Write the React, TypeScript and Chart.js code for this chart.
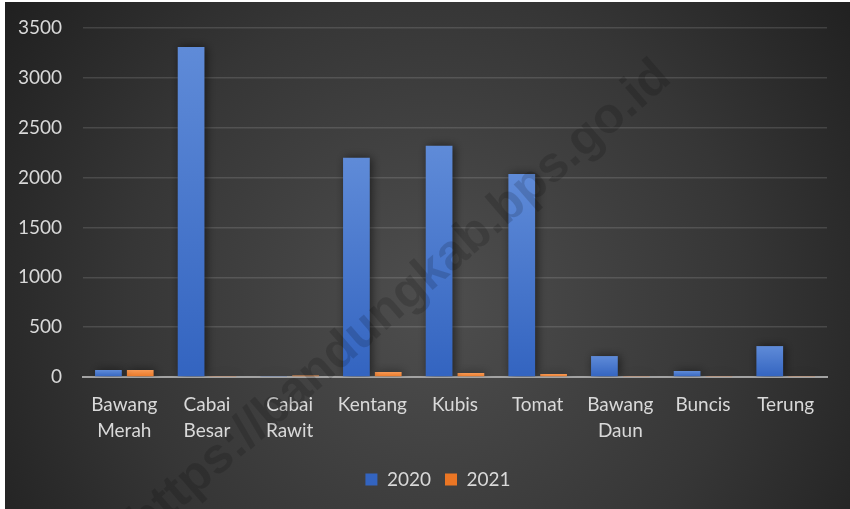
import React, { useEffect, useRef } from "react";
import { Chart, registerables } from "chart.js";

Chart.register(...registerables);

const categories: string[][] = [
  ["Bawang", "Merah"],
  ["Cabai", "Besar"],
  ["Cabai", "Rawit"],
  ["Kentang"],
  ["Kubis"],
  ["Tomat"],
  ["Bawang", "Daun"],
  ["Buncis"],
  ["Terung"],
];
const values2020: number[] = [70, 3310, 5, 2200, 2320, 2035, 210, 60, 310];
const values2021: number[] = [70, 5, 15, 50, 40, 30, 5, 5, 5];
const yTicks: number[] = [0, 500, 1000, 1500, 2000, 2500, 3000, 3500];
const watermark = "https://bandungkab.bps.go.id";

const W = 845;
const H = 507;
const FONT = "Lato, 'Open Sans', sans-serif";
const TEXT = "#d9d9d9";

function barFill(base: string, top: string, bottom: string) {
  return (ctx: any) => {
    const chart = ctx.chart;
    if (ctx.type !== "data" || !chart.chartArea) return base;
    const ys = chart.scales.y;
    const yTop = ys.getPixelForValue(ctx.raw);
    const yBot = ys.getPixelForValue(0);
    if (!isFinite(yTop) || Math.abs(yBot - yTop) < 1) return base;
    const g = chart.ctx.createLinearGradient(0, yTop, 0, yBot);
    g.addColorStop(0, top);
    g.addColorStop(1, bottom);
    return g;
  };
}

const bgPlugin = {
  id: "bg",
  beforeDraw(chart: any) {
    const c = chart.ctx;
    c.save();
    const g = c.createRadialGradient(430, 300, 0, 430, 300, 560);
    g.addColorStop(0, "#4e4e4e");
    g.addColorStop(0.55, "#363636");
    g.addColorStop(1, "#1c1c1c");
    c.fillStyle = g;
    c.fillRect(0, 0, chart.width, chart.height);
    c.restore();
  },
};

const shadowPlugin = {
  id: "barShadow",
  beforeDatasetsDraw(chart: any) {
    const c = chart.ctx;
    c.save();
    c.shadowColor = "rgba(0,0,0,0.55)";
    c.shadowBlur = 10;
    c.shadowOffsetX = 2;
    c.shadowOffsetY = 0;
  },
  afterDatasetsDraw(chart: any) {
    chart.ctx.restore();
  },
};

const legendShiftPlugin = {
  id: "legendShift",
  afterLayout(chart: any) {
    const lg = chart.legend;
    if (lg) {
      lg.left += 22;
      lg.right += 22;
    }
  },
};

const watermarkPlugin = {
  id: "watermark",
  afterDraw(chart: any) {
    const c = chart.ctx;
    c.save();
    c.translate(395, 298);
    c.rotate((-41 * Math.PI) / 180);
    c.font = "bold 50px 'Liberation Sans', Arial, sans-serif";
    c.fillStyle = "rgba(0,0,0,0.15)";
    c.textAlign = "center";
    c.textBaseline = "middle";
    c.fillText(watermark, 0, 0);
    c.restore();
  },
};

export default function App() {
  const ref = useRef<HTMLCanvasElement>(null);
  useEffect(() => {
    if (!ref.current) return;
    const chart = new Chart(ref.current, {
      type: "bar",
      data: {
        labels: categories,
        datasets: [
          {
            label: "2020",
            data: values2020,
            backgroundColor: barFill("#4472C4", "#5f8bd8", "#3364c0") as any,
            borderWidth: 0,
            categoryPercentage: 0.77,
            barPercentage: 0.84,
          },
          {
            label: "2021",
            data: values2021,
            backgroundColor: barFill("#ED7D31", "#f79a55", "#eb7624") as any,
            borderWidth: 0,
            categoryPercentage: 0.77,
            barPercentage: 0.84,
          },
        ],
      },
      options: {
        responsive: false,
        animation: false,
        devicePixelRatio: 1,
        layout: { padding: { left: 0, right: 23, top: 26, bottom: 10 } },
        plugins: {
          tooltip: { enabled: false },
          legend: {
            position: "bottom",
            labels: {
              color: TEXT,
              boxWidth: 12,
              boxHeight: 12,
              padding: 14,
              font: { family: FONT, size: 19 },
            },
          },
        },
        scales: {
          x: {
            grid: { display: false },
            border: { display: true, color: "#a3a3a3", width: 2 },
            ticks: {
              color: TEXT,
              font: { family: FONT, size: 19, lineHeight: 1.35 },
              padding: 7,
              maxRotation: 0,
              autoSkip: false,
            },
            afterFit(s: any) {
              s.height = 79;
            },
          },
          y: {
            min: 0,
            max: 3500,
            afterBuildTicks(s: any) {
              s.ticks = yTicks.map((v) => ({ value: v }));
            },
            grid: {
              drawTicks: false,
              color: (ctx: any) => (ctx.tick && ctx.tick.value === 0 ? "rgba(0,0,0,0)" : "rgba(255,255,255,0.13)"),
              lineWidth: 1.5,
            },
            border: { display: false },
            ticks: {
              color: TEXT,
              font: { family: FONT, size: 19 },
              padding: 21,
              callback: (v: any) => String(v),
            },
            afterFit(s: any) {
              s.width = 78;
              s.paddingTop = 0;
              s.paddingBottom = 0;
            },
          },
        },
      },
      plugins: [bgPlugin, shadowPlugin, legendShiftPlugin, watermarkPlugin],
    });
    return () => chart.destroy();
  }, []);

  return (
    <div style={{ position: "fixed", left: 0, top: 0, width: 850, height: 509, background: "#fff" }}>
      <canvas
        ref={ref}
        width={W}
        height={H}
        style={{ position: "absolute", left: 5, top: 2, width: W, height: H }}
      />
    </div>
  );
}
